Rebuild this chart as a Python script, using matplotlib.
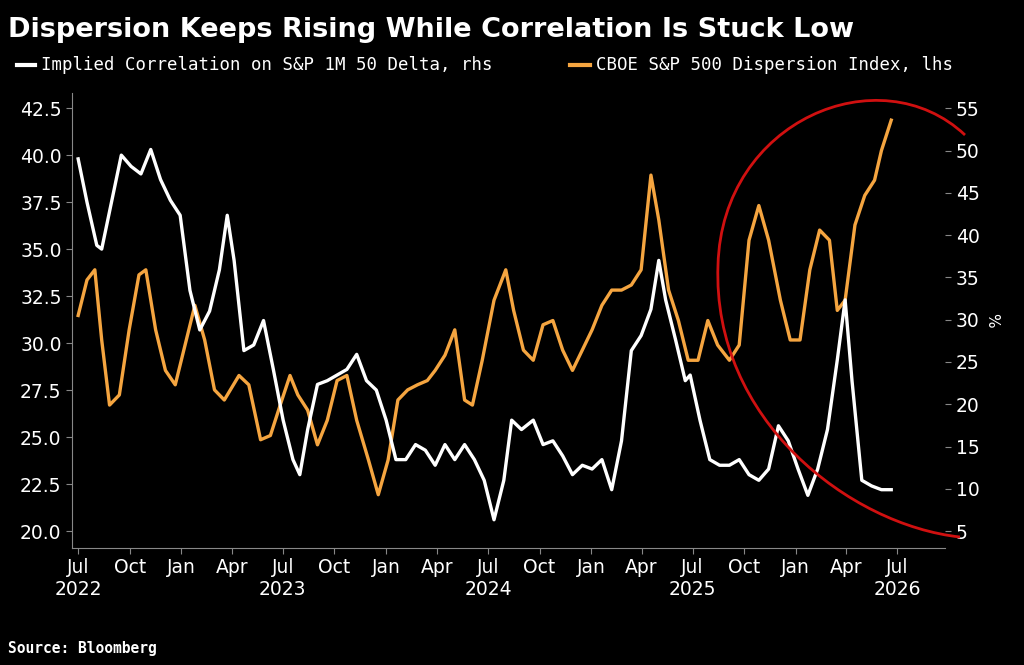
import matplotlib
matplotlib.use("Agg")
import matplotlib.pyplot as plt
from matplotlib.path import Path
from matplotlib.patches import PathPatch
import matplotlib.transforms as mtrans
import pandas as pd
import numpy as np

# readings along the time axis (chart position units, 17.4 per month, 76 = Jul 2022)
corr_pos = [76,85,95,100,110,120,130,140,150,160,170,180,190,200,210,220,228,235,245,255,265,275,285,295,302,310,320,330,340,350,360,370,380,390,400,410,420,430,440,450,460,470,480,490,500,510,518,528,540,550,560,570,580,590,600,610,620,630,640,650,660,668,675,685,695,700,710,720,730,740,750,760,770,780,790,800,810,820,830,840,850,858,865,875,885,895,905]
corr_vals = [39.8,37.5,35.2,35.0,37.5,40.0,39.4,39.0,40.3,38.7,37.6,36.8,32.8,30.7,31.7,33.9,36.8,34.4,29.6,29.9,31.2,28.6,25.9,23.8,23.0,25.4,27.8,28.0,28.3,28.6,29.4,28.0,27.5,25.9,23.8,23.8,24.6,24.3,23.5,24.6,23.8,24.6,23.8,22.7,20.6,22.7,25.9,25.4,25.9,24.6,24.8,24.0,23.0,23.5,23.3,23.8,22.2,24.8,29.6,30.4,31.8,34.4,32.3,30.2,28.0,28.3,25.9,23.8,23.5,23.5,23.8,23.0,22.7,23.3,25.6,24.8,23.3,21.9,23.3,25.4,29.1,32.3,28.0,22.7,22.4,22.2,22.2]
disp_pos = [76,85,93,100,108,118,128,138,145,155,165,175,185,195,205,215,225,240,250,262,272,282,292,300,310,320,330,340,350,360,372,382,392,402,412,422,432,440,450,460,470,478,488,500,512,520,530,540,550,560,570,580,590,600,610,620,630,640,650,660,668,678,688,698,708,718,728,740,750,760,770,780,792,802,812,822,832,842,850,858,868,878,888,895,905]
disp_vals = [30.5,34.7,35.9,27.6,19.9,21.1,28.8,35.3,35.9,28.8,24.0,22.3,27.0,31.7,27.6,21.7,20.5,23.4,22.3,15.8,16.3,19.9,23.4,21.1,19.3,15.2,18.1,22.8,23.4,18.1,13.4,9.3,13.4,20.5,21.7,22.3,22.8,24.0,25.8,28.8,20.5,19.9,25.2,32.3,35.9,31.1,26.4,25.2,29.4,29.9,26.4,24.0,26.4,28.8,31.7,33.5,33.5,34.1,35.9,47.1,41.8,33.5,29.9,25.2,25.2,29.9,27.0,25.2,27.0,39.4,43.5,39.4,32.3,27.6,27.6,35.9,40.6,39.4,31.1,32.3,41.2,44.7,46.5,50.0,53.6]

start = pd.Timestamp("2022-07-01")
def to_dates(pos):
    return [start + pd.Timedelta(days=(p - 76) / 17.4 * 30.44) for p in pos]

n = min(len(corr_pos), len(corr_vals)); corr_pos, corr_vals = corr_pos[:n], corr_vals[:n]
n = min(len(disp_pos), len(disp_vals)); disp_pos, disp_vals = disp_pos[:n], disp_vals[:n]

fig = plt.figure(figsize=(10.24, 6.65), dpi=100, facecolor="black")
ax = fig.add_axes([0.0703, 0.176, 0.853, 0.684], facecolor="black")
ax2 = ax.twinx()
ax.set_zorder(2); ax.patch.set_visible(False)

ax2.plot(to_dates(disp_pos), disp_vals, color="#f5a540", lw=2.4)
ax.plot(to_dates(corr_pos), corr_vals, color="white", lw=2.4)

ax.set_ylim(19.1, 43.3)
ax2.set_ylim(3.0, 56.8)
yt = np.arange(20, 42.6, 2.5)
ax.set_yticks(yt)
ax.set_yticklabels([f"{v:.1f}" for v in yt])
ax2.set_yticks(range(5, 56, 5))
ax.set_xlim(pd.Timestamp("2022-06-20"), pd.Timestamp("2026-09-25"))

ticks = pd.date_range("2022-07-01", "2026-07-01", freq="3MS")
ax.set_xticks(ticks)
ax.set_xticklabels([t.strftime("%b") + ("\n" + str(t.year) if t.month == 7 else "") for t in ticks])

for a in (ax, ax2):
    for s in a.spines.values():
        s.set_visible(False)
    a.tick_params(colors="#888888", labelcolor="white", labelsize=13.5, length=4)
ax.spines["left"].set_visible(True); ax.spines["left"].set_color("#888888")
ax.spines["bottom"].set_visible(True); ax.spines["bottom"].set_color("#888888")
ax2.set_ylabel("%", color="white", fontsize=11, rotation=270, labelpad=14)

fig.text(0.008, 0.955, "Dispersion Keeps Rising While Correlation Is Stuck Low",
         color="white", fontsize=19.5, fontweight="bold", va="center")
fig.lines.append(plt.Line2D([0.017, 0.034], [0.902, 0.902], color="white", lw=3, transform=fig.transFigure))
fig.text(0.04, 0.902, "Implied Correlation on S&P 1M 50 Delta, rhs", color="white",
         fontsize=12.5, family="DejaVu Sans Mono", va="center")
fig.lines.append(plt.Line2D([0.557, 0.576], [0.902, 0.902], color="#f5a540", lw=3, transform=fig.transFigure))
fig.text(0.582, 0.902, "CBOE S&P 500 Dispersion Index, lhs", color="white",
         fontsize=12.5, family="DejaVu Sans Mono", va="center")
fig.text(0.008, 0.025, "Source: Bloomberg", color="white", fontsize=10.5,
         family="DejaVu Sans Mono", fontweight="bold", va="center")

# red annotation arc (figure pixels)
pts = [(965, 665-135), (880, 665-55), (722, 665-120), (718, 665-265),
       (712, 665-420), (850, 665-525), (960, 665-537)]
codes = [Path.MOVETO] + [Path.CURVE4] * 6
arc = PathPatch(Path(pts, codes), fill=False, edgecolor="#d01010", lw=2, zorder=10)
arc.set_transform(mtrans.IdentityTransform())
fig.patches.append(arc)
clip = mtrans.Bbox.from_extents(0, 665-548, 1024, 665-91)
arc.set_clip_box(mtrans.TransformedBbox(clip, mtrans.IdentityTransform()))

fig.savefig("out.png", dpi=100, facecolor="black")
